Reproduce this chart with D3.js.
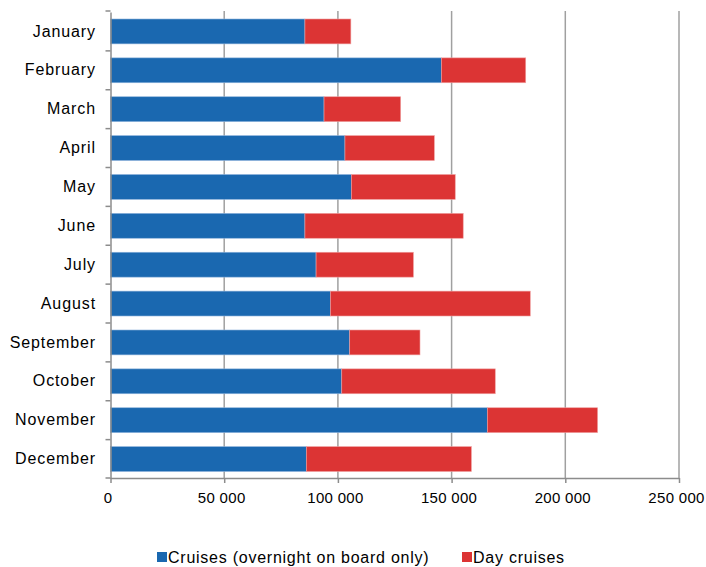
<!DOCTYPE html>
<html><head><meta charset="utf-8">
<script src="https://cdn.jsdelivr.net/npm/d3@7"></script>
<style>body{margin:0;background:#fff;} text{font-family:"Liberation Sans",Arial,sans-serif;fill:#000;}</style>
</head><body><svg id="c" width="706" height="567"></svg>
<script>
const months = ["January","February","March","April","May","June","July","August","September","October","November","December"];
const cruises = [85500,145500,93900,103100,105900,85500,90400,96700,105200,101700,165700,86100];
const dayCruises = [20200,37100,33700,39300,45700,69600,42800,87900,30900,67500,48500,72600];
const seriesNames = ["Cruises (overnight on board only)","Day cruises"];
const xTicks = [0,50000,100000,150000,200000,250000];

(function(){
const colors = ["#1a68b0","#dc3434"];
const svg = d3.select("#c");
const pL = 110.5, pR = 679, pT = 11, pB = 478;
const x = d3.scaleLinear().domain([0,250000]).range([pL,pR]);
const y = d3.scaleBand().domain(months).range([pT+1,pB+0.5]).paddingInner(0.36).paddingOuter(0.18);
const fmt = d3.formatLocale({decimal:".",thousands:" ",grouping:[3],currency:["",""]}).format(",d");

svg.append("g").selectAll("line").data(xTicks.slice(1)).join("line")
  .attr("x1",d=>x(d)).attr("x2",d=>x(d)).attr("y1",pT).attr("y2",pB)
  .attr("stroke","#a0a0a0").attr("stroke-width",1.5);

const stack = months.map((m,i)=>({m, a:cruises[i], b:dayCruises[i]}));
const g = svg.append("g");
g.selectAll("rect.a").data(stack).join("rect").attr("class","a")
  .attr("x",x(0)).attr("y",d=>y(d.m)).attr("width",d=>x(d.a)-x(0)).attr("height",y.bandwidth())
  .attr("fill",colors[0]).attr("stroke","#8fb4dc").attr("stroke-width",0.6);
g.selectAll("rect.b").data(stack).join("rect").attr("class","b")
  .attr("x",d=>x(d.a)).attr("y",d=>y(d.m)).attr("width",d=>x(d.a+d.b)-x(d.a)).attr("height",y.bandwidth())
  .attr("fill",colors[1]).attr("stroke","#efa0a0").attr("stroke-width",0.6);

const xa = svg.append("g").attr("transform",`translate(0,${pB})`)
  .call(d3.axisBottom(x).tickValues(xTicks).tickFormat(fmt).tickSizeInner(5).tickSizeOuter(0));
xa.select(".domain").attr("stroke","#8c8c8c").attr("stroke-width",1.5);
xa.selectAll(".tick line").attr("stroke","#8c8c8c").attr("stroke-width",1.5);
xa.selectAll(".tick text").attr("font-size","15px").attr("dy","1.15em").attr("dx","-3")
  .attr("font-family","Liberation Sans, Arial, sans-serif").style("letter-spacing","0.3px");

const ya = svg.append("g").attr("transform",`translate(${pL},0)`)
  .call(d3.axisLeft(y).tickSize(0).tickPadding(14.5));
ya.select(".domain").attr("stroke","#8c8c8c").attr("stroke-width",1.5);
ya.selectAll(".tick text").attr("font-size","16px").attr("font-family","Liberation Sans, Arial, sans-serif")
  .style("letter-spacing","0.9px");
const bounds = months.map(m=>y(m)-y.step()*y.paddingInner()/2).concat([pB]);
bounds[0]=pT;
svg.append("g").selectAll("line").data(bounds).join("line")
  .attr("x1",pL-5).attr("x2",pL).attr("y1",d=>d).attr("y2",d=>d)
  .attr("stroke","#8c8c8c").attr("stroke-width",1.5);

const leg = svg.append("g");
const legX = [157, 462];
seriesNames.forEach((n,i)=>{
  leg.append("rect").attr("x",legX[i]).attr("y",552).attr("width",10).attr("height",10).attr("fill",colors[i]);
  leg.append("text").attr("x",legX[i]+11).attr("y",562.5).attr("font-size","16px")
    .style("letter-spacing","0.75px").text(n);
});
})();
</script></body></html>
